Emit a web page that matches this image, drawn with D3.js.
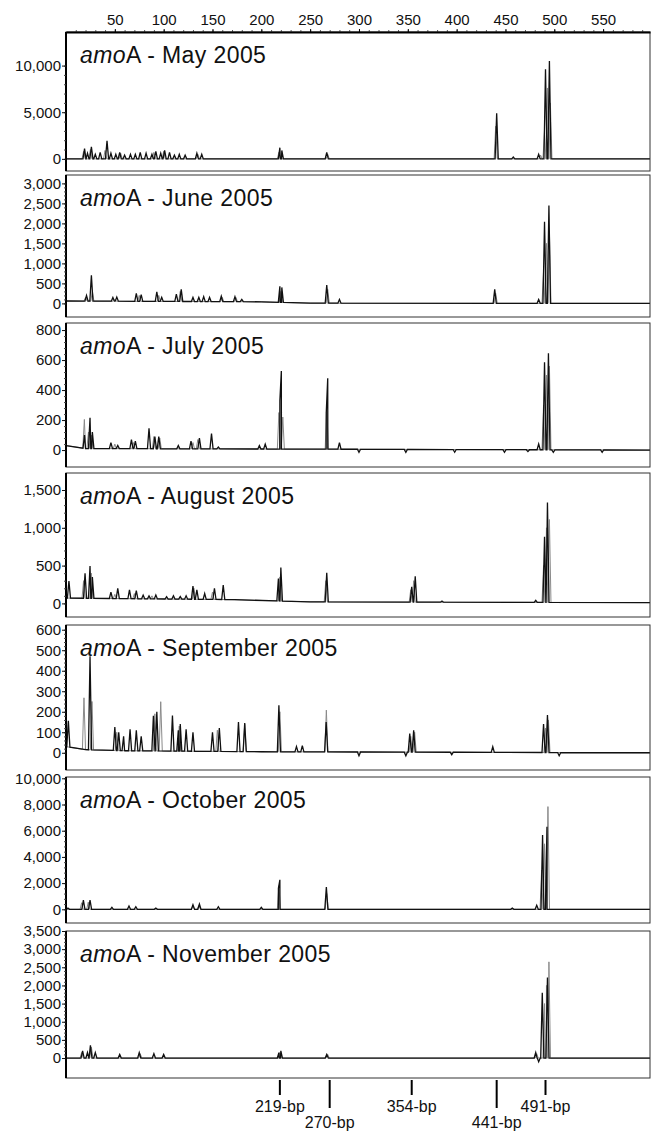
<!DOCTYPE html>
<html><head><meta charset="utf-8">
<script src="https://cdn.jsdelivr.net/npm/d3@7"></script>
<style>
html,body{margin:0;padding:0;background:#fff;}
svg{display:block;font-family:"Liberation Sans",Arial,sans-serif;}
</style></head>
<body><svg id="chart" width="656" height="1131"></svg>
<script>
// ---------------- DATA ----------------
const months = ["May 2005","June 2005","July 2005","August 2005","September 2005","October 2005","November 2005"];
const topTicks = [50,100,150,200,250,300,350,400,450,500,550];
const bpMarkers = [219,270,354,441,491];
const bpLabels = ["219-bp","270-bp","354-bp","441-bp","491-bp"];

const yTicksMay = [0,5000,10000];
const yTicksJun = [0,500,1000,1500,2000,2500,3000];
const yTicksJul = [0,200,400,600,800];
const yTicksAug = [0,500,1000,1500];
const yTicksSep = [0,100,200,300,400,500,600];
const yTicksOct = [0,2000,4000,6000,8000,10000];
const yTicksNov = [0,500,1000,1500,2000,2500,3000,3500];

const yRangeMay = [-1300,13600];
const yRangeJun = [-340,3210];
const yRangeJul = [-113,847];
const yRangeAug = [-180,1725];
const yRangeSep = [-84,623];
const yRangeOct = [-1045,10100];
const yRangeNov = [-550,3500];

// baseline knots [bp, value]
const baseMay = [[0,0],[598,0]];
const baseJun = [[0,60],[200,40],[250,5],[598,0]];
const baseJul = [[0,30],[20,10],[598,0]];
const baseAug = [[0,70],[170,50],[250,20],[598,10]];
const baseSep = [[0,30],[20,15],[60,10],[200,5],[598,0]];
const baseOct = [[0,0],[598,0]];
const baseNov = [[0,0],[598,0]];

// peaks [bp, value] - black trace and grey trace
const blackMay = [[19,1100],[22,600],[26,1300],[30,500],[35,700],[42,1950],[46,600],[51,500],[55,700],[60,400],[66,500],[71,500],[76,700],[82,600],[88,500],[92,800],[97,600],[101,900],[106,700],[111,400],[116,500],[122,400],[134,600],[139,500],[219,1200],[221,900],[267,700],[441,4900],[458,200],[484,500],[491,9600],[495,10500]];
const greyMay = [[18,800],[25,1000],[40,900],[56,600],[90,700],[100,800],[135,500],[218,700],[268,500],[440,3500],[486,400],[490,3000],[493,7600],[496,6000]];

const blackJun = [[21,200],[26,700],[48,150],[52,160],[72,250],[77,220],[93,290],[98,150],[113,230],[118,350],[130,150],[136,150],[141,170],[147,150],[159,180],[173,170],[180,100],[219,430],[221,400],[267,460],[280,100],[439,350],[484,100],[490,2040],[494.5,2450]];
const greyJun = [[20,150],[27,300],[50,100],[75,200],[95,200],[117,300],[160,150],[174,150],[220,300],[268,350],[440,250],[489,800],[492,1500],[495,1800]];

const blackJul = [[19,100],[24.6,215],[27,120],[46,50],[53,30],[67,70],[71,60],[85,145],[91,90],[95,90],[115,30],[128,60],[136.6,80],[149,110],[156,20],[198,30],[204,40],[219,330],[220.5,527],[266.5,250],[268,478],[280,50],[300,-15],[348,-15],[398,-15],[449,-15],[473,-10],[484,40],[490,585],[494,645],[499,-15],[549,-15]];
const greyJul = [[18.8,204],[23,120],[26,100],[50,40],[69,50],[90,90],[96,80],[130,50],[135,70],[218,250],[222,220],[267,300],[489,300],[492,500],[495,560]];

const blackAug = [[3,295],[19.5,397],[24.6,494],[27,350],[46,150],[53,200],[65,180],[72,170],[79,110],[85,100],[92,110],[103,90],[110,100],[117,90],[123,100],[130,230],[134,180],[142,130],[152,200],[161,243],[171,50],[217.5,330],[220,476],[267,405],[354,220],[357.6,360],[385,30],[481,40],[490,880],[493,1336]];
const greyAug = [[18,300],[26,400],[50,120],[70,130],[88,100],[131,200],[150,150],[219,350],[266,300],[353,180],[356,300],[489,500],[492,1000],[495,1110]];

const blackSep = [[2.4,156],[24.6,471],[50,125],[54,100],[59,80],[65.6,115],[72,110],[77,80],[89.5,180],[93,200],[109,182],[115,110],[117,140],[123,115],[130,100],[150,100],[157,120],[176.6,150],[183,145],[218,232],[236,30],[242,35],[266.4,150],[300,-15],[348,-15],[352,94],[356,110],[395,-10],[437,30],[489,140],[493,184],[505,-15]];
const greySep = [[18.4,268],[26.6,250],[52,100],[91,190],[97,249],[116,130],[155,110],[183,140],[219,200],[266.6,208],[353,80],[357,100],[491,120],[494,160]];

const blackOct = [[2,100],[17.8,700],[24.6,700],[47,150],[64.5,250],[71.5,200],[92,100],[130,350],[136.6,400],[156,200],[200,150],[217.5,1600],[219,2250],[266.6,1700],[457,100],[482,300],[488,5670],[491,400],[492.5,6310]];
const greyOct = [[16,500],[22.8,550],[130,250],[136,300],[218,1800],[267,1200],[487,3000],[490,5000],[493.5,7840]];

const blackNov = [[17,200],[22,150],[25,350],[30,150],[55,100],[75,150],[90,120],[100,100],[218,150],[220,200],[267,100],[481,150],[484,-100],[487.7,1800],[493,2220]];
const greyNov = [[16,150],[26,300],[76,120],[219,150],[268,100],[482,120],[490,1500],[492,2000],[494.5,2650]];

// ---------------- LAYOUT ----------------
const panelTop = [32,175,323,473,625,777,931];
const panelBottom = [171,317,467,617,770,923,1078];
const left = 66, right = 650;

const panels = [
  {t:yTicksMay, r:yRangeMay, b:baseMay, k:blackMay, g:greyMay},
  {t:yTicksJun, r:yRangeJun, b:baseJun, k:blackJun, g:greyJun},
  {t:yTicksJul, r:yRangeJul, b:baseJul, k:blackJul, g:greyJul},
  {t:yTicksAug, r:yRangeAug, b:baseAug, k:blackAug, g:greyAug},
  {t:yTicksSep, r:yRangeSep, b:baseSep, k:blackSep, g:greySep},
  {t:yTicksOct, r:yRangeOct, b:baseOct, k:blackOct, g:greyOct},
  {t:yTicksNov, r:yRangeNov, b:baseNov, k:blackNov, g:greyNov}
];

const svg = d3.select("#chart");
const x = d3.scaleLinear().domain([0,598]).range([left,right]);

function baseAt(knots, bp){
  for(let i=0;i<knots.length-1;i++){
    const [a,va]=knots[i],[b,vb]=knots[i+1];
    if(bp>=a && bp<=b) return va+(vb-va)*(bp-a)/(b-a);
  }
  return knots[knots.length-1][1];
}
function trace(peaks, knots){
  const hw=1.6;
  const pts = knots.map(d=>[d[0],d[1]]);
  peaks.forEach(([p,h])=>{
    pts.push([p-hw, baseAt(knots,p-hw)]);
    pts.push([p, h]);
    pts.push([p+hw, baseAt(knots,p+hw)]);
  });
  pts.sort((a,b)=>a[0]-b[0]);
  return pts.filter(d=>d[0]>=0 && d[0]<=598);
}

panels.forEach((P,i)=>{
  const top=panelTop[i], bot=panelBottom[i];
  const y = d3.scaleLinear().domain(P.r).range([bot,top]);
  const g = svg.append("g");
  const clipId="clip"+i;
  svg.append("clipPath").attr("id",clipId).append("rect")
    .attr("x",left).attr("y",top).attr("width",right-left).attr("height",bot-top);

  const line = d3.line().x(d=>x(d[0])).y(d=>y(d[1]));
  const plot = g.append("g").attr("clip-path","url(#"+clipId+")");
  plot.append("path").datum(trace(P.g,P.b)).attr("d",line)
    .attr("fill","none").attr("stroke","#8a8a8a").attr("stroke-width",1);
  plot.append("path").datum(trace(P.k,P.b)).attr("d",line)
    .attr("fill","none").attr("stroke","#111").attr("stroke-width",1.3);

  // frame
  g.append("rect").attr("x",left).attr("y",top).attr("width",right-left).attr("height",bot-top)
    .attr("fill","none").attr("stroke","#333").attr("stroke-width",1);
  g.append("line").attr("x1",left).attr("x2",left).attr("y1",top).attr("y2",bot)
    .attr("stroke","#000").attr("stroke-width",2);

  // minor y ticks
  const step = P.t[1]-P.t[0];
  const minor = d3.range(P.t[0], P.t[P.t.length-1]+step*0.01, step/5)
    .filter(v=>y(v)>=top && y(v)<=bot);
  g.append("g").attr("transform",`translate(${left},0)`)
    .call(d3.axisLeft(y).tickValues(minor).tickSize(2).tickFormat(""))
    .call(a=>a.select(".domain").remove())
    .selectAll("line").attr("stroke","#444");

  const ya = g.append("g").attr("transform",`translate(${left},0)`)
    .call(d3.axisLeft(y).tickValues(P.t).tickSize(4).tickPadding(1).tickFormat(d3.format(",")))
    .call(a=>a.select(".domain").remove());
  ya.selectAll("text").attr("font-size",15).attr("fill","#111")
    .attr("font-family",'"Liberation Sans",Arial,sans-serif');
  ya.selectAll("line").attr("stroke","#111");

  // title
  const t = g.append("text").attr("x",80).attr("y",top+31)
    .attr("font-size",23).attr("letter-spacing","0.4px").attr("fill","#111");
  t.append("tspan").attr("font-style","italic").text("amo");
  t.append("tspan").text("A - "+months[i]);
});

// top axis
const minorTop = d3.range(10,598,10);
svg.append("g").attr("transform",`translate(0,${panelTop[0]})`)
  .call(d3.axisTop(x).tickValues(minorTop).tickSize(2).tickFormat(""))
  .call(a=>a.select(".domain").remove())
  .selectAll("line").attr("stroke","#555");
const ta = svg.append("g").attr("transform",`translate(0,${panelTop[0]})`)
  .call(d3.axisTop(x).tickValues(topTicks).tickSize(3).tickPadding(4).tickSizeOuter(0));
ta.select(".domain").attr("stroke","#000").attr("stroke-width",2);
ta.selectAll("text").attr("font-size",15).attr("fill","#111")
  .attr("font-family",'"Liberation Sans",Arial,sans-serif');

// bp markers
const lastBot = panelBottom[panelBottom.length-1];
const mk = svg.append("g");
bpMarkers.forEach((bp,i)=>{
  const low = (i===1||i===3);
  mk.append("line").attr("x1",x(bp)).attr("x2",x(bp))
    .attr("y1",lastBot+2).attr("y2",low?lastBot+30:lastBot+17)
    .attr("stroke","#000").attr("stroke-width",2);
  mk.append("text").attr("x",x(bp)).attr("y",low?lastBot+50:lastBot+34)
    .attr("text-anchor","middle").attr("font-size",16).attr("fill","#111")
    .text(bpLabels[i]);
});
</script></body></html>
